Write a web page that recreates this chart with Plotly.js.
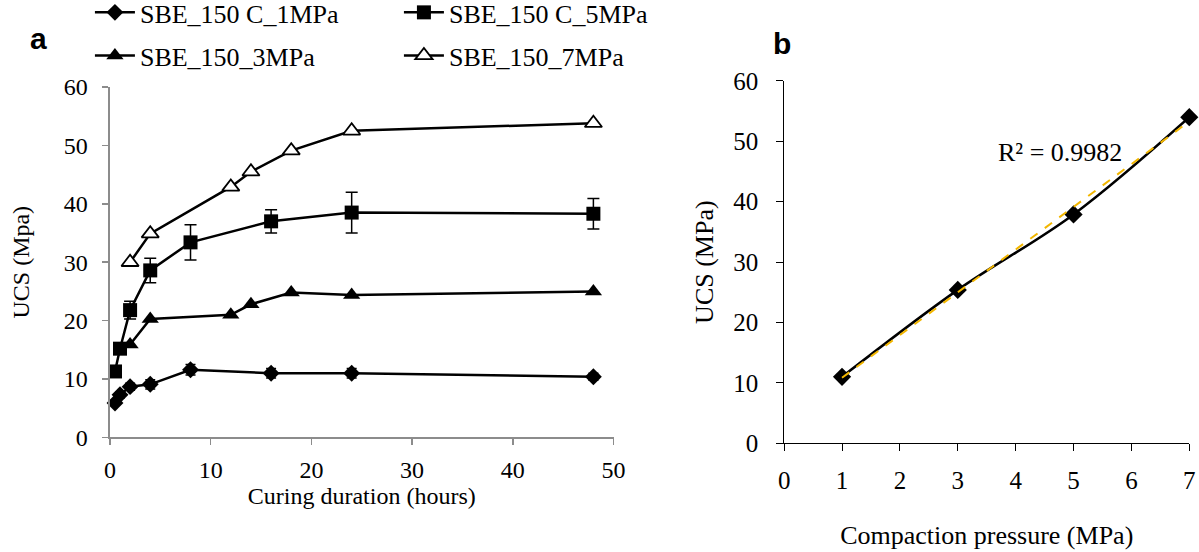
<!DOCTYPE html>
<html>
<head>
<meta charset="utf-8">
<script src="https://cdn.plot.ly/plotly-3.0.1.min.js"></script>
<style>html,body{margin:0;padding:0;background:#fff;}#chart{width:1199px;height:552px;}</style>
</head>
<body>
<div id="chart"></div>
<script>
// Panel a: curing duration (hours) vs UCS (MPa)
const hours1 = [0.5, 1, 2, 4, 8, 16, 24, 48];
const ucs1MPa = [5.9, 7.3, 8.7, 9.1, 11.6, 11.0, 11.0, 10.4];
const err1MPa = [0.4, 0.5, 0.6, 0.8, 0.9, 0.8, 0.8, 0.6];

const hours5 = [0.5, 1, 2, 4, 8, 16, 24, 48];
const ucs5MPa = [11.3, 15.2, 21.8, 28.6, 33.4, 37.0, 38.5, 38.3];
const err5MPa = [0.5, 0.8, 1.5, 2.1, 3.0, 2.0, 3.5, 2.6];

const hours3 = [2, 4, 12, 14, 18, 24, 48];
const ucs3MPa = [15.9, 20.3, 21.0, 22.8, 24.8, 24.4, 25.0];

const hours7 = [2, 4, 12, 14, 18, 24, 48];
const ucs7MPa = [30.0, 34.9, 42.9, 45.5, 49.1, 52.5, 53.8];

// Panel b: compaction pressure vs UCS
const pressure = [1, 3, 5, 7];
const ucsB = [11.0, 25.4, 37.9, 54.0];

const names = ["SBE_150 C_1MPa", "SBE_150 C_5MPa", "SBE_150_3MPa", "SBE_150_7MPa"];
const r2Label = "R² = 0.9982";

// least squares trendline for panel b
const n = pressure.length;
const mx = pressure.reduce((a, b) => a + b, 0) / n;
const my = ucsB.reduce((a, b) => a + b, 0) / n;
let sxy = 0, sxx = 0;
for (let i = 0; i < n; i++) { sxy += (pressure[i] - mx) * (ucsB[i] - my); sxx += (pressure[i] - mx) ** 2; }
const slope = sxy / sxx, intercept = my - slope * mx;
const trendX = [pressure[0], pressure[n - 1]];
const trendY = trendX.map(x => intercept + slope * x);

const serif = "Liberation Serif";
const sans = "Liberation Sans";
const lineW = 2.5;

const traces = [
  {x: hours1, y: ucs1MPa, name: names[0], mode: "lines+markers", legend: "legend",
   line: {color: "#000", width: lineW}, marker: {symbol: "diamond", size: 13, color: "#000"},
   error_y: {type: "data", array: err1MPa, visible: true, color: "#000", thickness: 1.5, width: 5},
   cliponaxis: false},
  {x: hours5, y: ucs5MPa, name: names[1], mode: "lines+markers", legend: "legend",
   line: {color: "#000", width: lineW}, marker: {symbol: "square", size: 14, color: "#000"},
   error_y: {type: "data", array: err5MPa, visible: true, color: "#000", thickness: 1.5, width: 6},
   cliponaxis: false},
  {x: hours3, y: ucs3MPa, name: names[2], mode: "lines+markers", legend: "legend2",
   line: {color: "#000", width: lineW}, marker: {symbol: "triangle-up", size: 15, color: "#000"},
   cliponaxis: false},
  {x: hours7, y: ucs7MPa, name: names[3], mode: "lines+markers", legend: "legend2",
   line: {color: "#000", width: lineW}, marker: {symbol: "triangle-up", size: 15, color: "#fff", line: {color: "#000", width: 1.8}},
   cliponaxis: false},
  {x: pressure, y: ucsB, xaxis: "x2", yaxis: "y2", mode: "lines+markers", showlegend: false,
   line: {color: "#000", width: lineW, shape: "spline"}, marker: {symbol: "diamond", size: 14, color: "#000"},
   cliponaxis: false},
  {x: trendX, y: trendY, xaxis: "x2", yaxis: "y2", mode: "lines", showlegend: false,
   line: {color: "#F2B600", width: 2, dash: "dash"}, cliponaxis: false}
];

const grayAxis = "#8c8c8c";
const layout = {
  width: 1199, height: 552,
  margin: {l: 0, r: 0, t: 0, b: 0, autoexpand: false},
  paper_bgcolor: "#fff", plot_bgcolor: "#fff",
  font: {family: serif, color: "#000"},
  showlegend: true,
  xaxis: {
    domain: [0.0917, 0.5117], range: [0, 50], dtick: 10, tick0: 0,
    showgrid: false, zeroline: false, showline: true, linecolor: grayAxis, linewidth: 1.5,
    ticks: "outside", ticklen: 6, tickcolor: grayAxis, tickwidth: 1.5, ticklabelstandoff: 4,
    tickfont: {family: serif, size: 24, color: "#000"},
    title: {text: "Curing duration (hours)", font: {family: serif, size: 24, color: "#000"}, standoff: 4},
    automargin: false, fixedrange: true
  },
  yaxis: {
    domain: [0.2075, 0.8424], range: [0, 60], dtick: 10,
    showgrid: false, zeroline: false, showline: true, linecolor: grayAxis, linewidth: 1.5,
    ticks: "outside", ticklen: 6, tickcolor: grayAxis, tickwidth: 1.5, ticklabelstandoff: 10,
    tickfont: {family: serif, size: 24, color: "#000"},
    title: {text: "UCS (Mpa)", font: {family: serif, size: 24, color: "#000"}, standoff: 27},
    automargin: false, fixedrange: true
  },
  xaxis2: {
    domain: [0.654, 0.9919], range: [0, 7], dtick: 1, anchor: "y2",
    showgrid: false, zeroline: false, showline: true, linecolor: "#000", linewidth: 1,
    ticks: "outside", ticklen: 7, tickcolor: "#000", tickwidth: 1, ticklabelstandoff: 8,
    tickfont: {family: serif, size: 25, color: "#000"},
    title: {text: "Compaction pressure (MPa)", font: {family: serif, size: 26, color: "#000"}, standoff: 32},
    automargin: false, fixedrange: true
  },
  yaxis2: {
    domain: [0.197, 0.8533], range: [0, 60], dtick: 10, anchor: "x2",
    showgrid: false, zeroline: false, showline: true, linecolor: "#000", linewidth: 1,
    ticks: "outside", ticklen: 7, tickcolor: "#000", tickwidth: 1, ticklabelstandoff: 13,
    tickfont: {family: serif, size: 25, color: "#000"},
    title: {text: "UCS (MPa)", font: {family: serif, size: 26, color: "#000"}, standoff: 12},
    automargin: false, fixedrange: true
  },
  legend: {
    orientation: "h", x: 0.075, y: 1.02, xanchor: "left", yanchor: "top",
    font: {family: serif, size: 26, color: "#000"}, bgcolor: "rgba(0,0,0,0)",
    entrywidth: 254, entrywidthmode: "pixels", itemwidth: 40, tracegroupgap: 0
  },
  legend2: {
    orientation: "h", x: 0.075, y: 0.942, xanchor: "left", yanchor: "top",
    font: {family: serif, size: 26, color: "#000"}, bgcolor: "rgba(0,0,0,0)",
    entrywidth: 254, entrywidthmode: "pixels", itemwidth: 40, tracegroupgap: 0
  },
  annotations: [
    {text: r2Label, xref: "x2", yref: "y2", x: 4.76, y: 48.2, showarrow: false,
     font: {family: serif, size: 26, color: "#000"}},
    {text: "<b>a</b>", xref: "paper", yref: "paper", x: 38 / 1199, y: 1 - 39 / 552, xanchor: "center", yanchor: "middle", showarrow: false,
     font: {family: sans, size: 30, color: "#000"}},
    {text: "<b>b</b>", xref: "paper", yref: "paper", x: 782 / 1199, y: 1 - 43 / 552, xanchor: "center", yanchor: "middle", showarrow: false,
     font: {family: sans, size: 30, color: "#000"}}
  ]
};

Plotly.newPlot("chart", traces, layout, {displayModeBar: false, staticPlot: true});
</script>
</body>
</html>
